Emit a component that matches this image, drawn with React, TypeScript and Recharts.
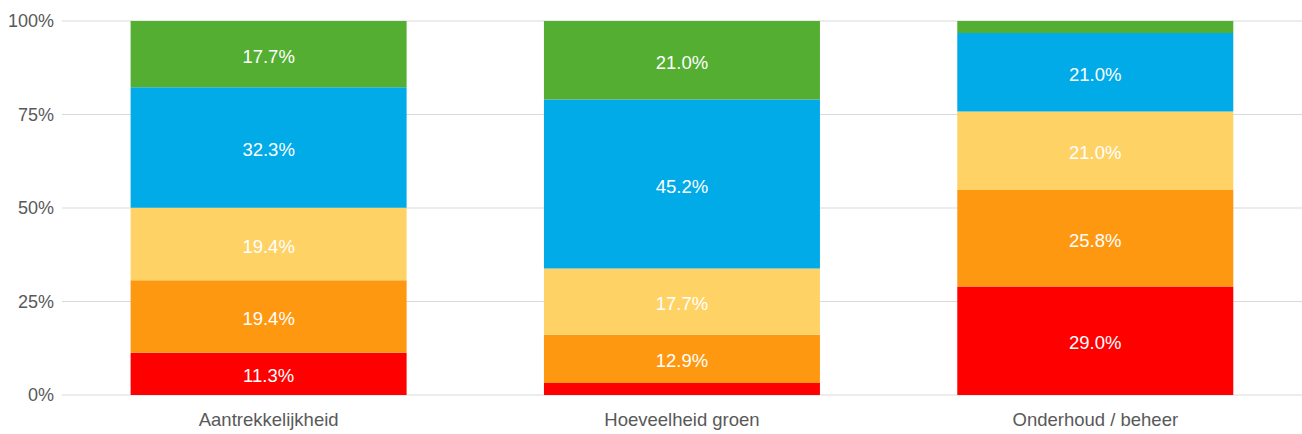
import React from 'react';
import { BarChart, Bar, XAxis, YAxis, CartesianGrid, LabelList } from 'recharts';

const categories = ['Aantrekkelijkheid', 'Hoeveelheid groen', 'Onderhoud / beheer'];

// series values in percent, bottom to top
const rood = [11.3, 3.2, 29.0];
const oranje = [19.4, 12.9, 25.8];
const geel = [19.4, 17.7, 21.0];
const blauw = [32.3, 45.2, 21.0];
const groen = [17.7, 21.0, 3.2];

const yTicks = [0, 0.25, 0.5, 0.75, 1];

const series = [
  { key: 'rood', values: rood, color: '#FF0000' },
  { key: 'oranje', values: oranje, color: '#FF9811' },
  { key: 'geel', values: geel, color: '#FFD265' },
  { key: 'blauw', values: blauw, color: '#00ABE7' },
  { key: 'groen', values: groen, color: '#53AE32' },
];

const data = categories.map((name, i) => {
  const row: Record<string, string | number> = { name };
  series.forEach(s => {
    row[s.key] = s.values[i];
  });
  return row;
});

const FONT = '"Liberation Sans", Arial, sans-serif';

const formatLabel = (v: unknown) => {
  const n = Number(v);
  return n >= 5 ? `${n.toFixed(1)}%` : '';
};

export default function App() {
  return (
    <div style={{ position: 'absolute', left: 0, top: 0, width: 1302, height: 434, background: '#fff' }}>
      <BarChart
        width={1302}
        height={434}
        data={data}
        stackOffset="expand"
        barCategoryGap="16.6%"
        margin={{ top: 21, right: 0, bottom: 0, left: 0 }}
      >
        <CartesianGrid vertical={false} stroke="#d9d9d9" />
        <XAxis
          dataKey="name"
          axisLine={false}
          tickLine={false}
          height={39}
          tickMargin={12}
          tick={{ fill: '#595959', fontSize: 18.5, fontFamily: FONT }}
        />
        <YAxis
          width={62}
          axisLine={false}
          tickLine={false}
          domain={[0, 1]}
          ticks={yTicks}
          tickFormatter={(v: number) => `${Math.round(v * 100)}%`}
          tick={{ fill: '#595959', fontSize: 18, fontFamily: FONT }}
        />
        {series.map(s => (
          <Bar key={s.key} dataKey={s.key} stackId="a" fill={s.color} isAnimationActive={false}>
            <LabelList
              dataKey={s.key}
              position="center"
              formatter={formatLabel}
              fill="#ffffff"
              dy={2}
              style={{ fontSize: 18.5, fontFamily: FONT }}
            />
          </Bar>
        ))}
      </BarChart>
    </div>
  );
}
